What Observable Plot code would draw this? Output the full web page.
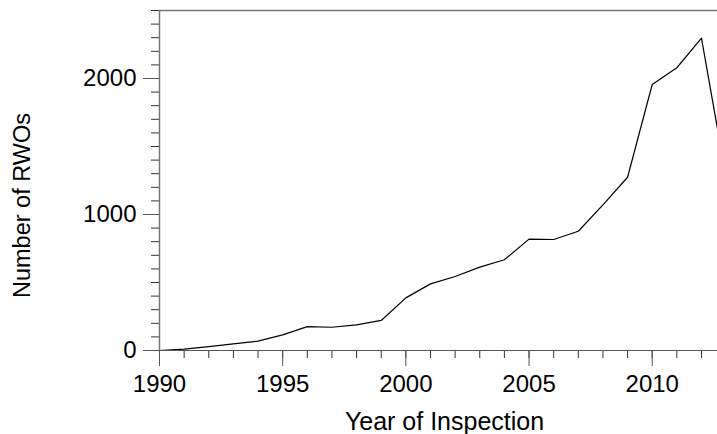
<!DOCTYPE html>
<html>
<head>
<meta charset="utf-8">
<script src="https://cdn.jsdelivr.net/npm/d3@7"></script>
<script src="https://cdn.jsdelivr.net/npm/@observablehq/plot@0.6"></script>
<style>
  html, body { margin: 0; padding: 0; background: #fff; }
  #chart { width: 717px; height: 434px; }
</style>
</head>
<body>
<div id="chart"></div>
<script>
const years = [1990, 1991, 1992, 1993, 1994, 1995, 1996, 1997, 1998, 1999, 2000, 2001,
               2002, 2003, 2004, 2005, 2006, 2007, 2008, 2009, 2010, 2011, 2012, 2013];
const rwos  = [0, 10, 29, 49, 69, 115, 176, 171, 189, 221, 387, 490,
               544, 613, 667, 819, 816, 877, 1071, 1274, 1956, 2079, 2297, 1270];

const xMajorTicks = [1990, 1995, 2000, 2005, 2010];
const xMinorTicks = [1990, 1991, 1992, 1993, 1994, 1995, 1996, 1997, 1998, 1999, 2000, 2001,
                     2002, 2003, 2004, 2005, 2006, 2007, 2008, 2009, 2010, 2011, 2012];
const yMajorTicks = [0, 1000, 2000];
const yMinorTicks = [0, 100, 200, 300, 400, 500, 600, 700, 800, 900, 1000, 1100, 1200,
                     1300, 1400, 1500, 1600, 1700, 1800, 1900, 2000, 2100, 2200, 2300, 2400, 2500];
const xTitle = "Year of Inspection";
const yTitle = "Number of RWOs";

const data = years.map((y, i) => ({year: y, count: rwos[i]}));

const plot = Plot.plot({
  width: 717,
  height: 434,
  marginLeft: 159,
  marginRight: 0,
  marginTop: 10,
  marginBottom: 84,
  style: {fontSize: "24px", fontFamily: "'Liberation Sans', Arial, Helvetica, sans-serif", color: "#000", background: "#fff"},
  x: {domain: [1990, 2012.65], label: null},
  y: {domain: [0, 2500], label: null},
  marks: [
    Plot.ruleY([2500], {stroke: "#777", strokeWidth: 1.5}),
    Plot.axisY(yMinorTicks, {tickSize: 8, stroke: "#333", text: null, label: null}),
    Plot.axisY(yMajorTicks, {tickSize: 16, tickPadding: 7, stroke: "#555", label: null, tickFormat: d => String(d)}),
    Plot.axisX(xMinorTicks, {tickSize: 8, stroke: "#333", text: null, label: null}),
    Plot.axisX(xMajorTicks, {tickSize: 16, tickPadding: 8, stroke: "#555", label: null, tickFormat: d => String(d)}),
    Plot.ruleX([1990], {stroke: "#777", strokeWidth: 1.5}),
    Plot.ruleY([0], {stroke: "#555", strokeWidth: 1.2}),
    Plot.line(data, {x: "year", y: "count", stroke: "#000", strokeWidth: 1.2, clip: true}),
    Plot.text([xTitle], {frameAnchor: "bottom", textAnchor: "middle", lineAnchor: "bottom", dx: 6, dy: 79, text: d => d, fontSize: 25, fill: "#000"}),
    Plot.text([yTitle], {frameAnchor: "left", textAnchor: "middle", rotate: -90, dx: -137, dy: 25, text: d => d, fontSize: 23.5, fill: "#000"})
  ]
});
document.getElementById("chart").appendChild(plot);
</script>
</body>
</html>
